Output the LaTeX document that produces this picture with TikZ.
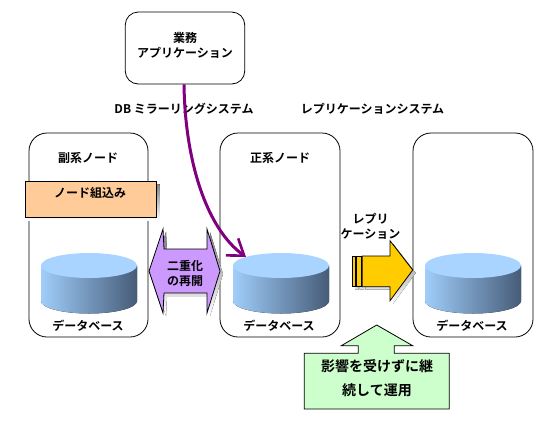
\documentclass[tikz,border=0pt]{standalone}
\usepackage{fontspec}
\setmainfont[BoldFont={Noto Sans CJK JP Bold}]{Noto Sans CJK JP}
\usetikzlibrary{arrows.meta}
\definecolor{cyltop}{HTML}{A9D4FF}
\definecolor{cylleft}{HTML}{A0CDFA}
\definecolor{cylright}{HTML}{465C78}
\definecolor{pinkbox}{HTML}{FFCC99}
\definecolor{lilac}{HTML}{CC99FF}
\definecolor{gold}{HTML}{FFCC00}
\definecolor{mint}{HTML}{CCFFCC}
\definecolor{plum}{HTML}{800080}
\definecolor{shade}{HTML}{777777}
\tikzset{
  x=1pt,y=-1pt,
  lbl/.style={font=\fontsize{12}{15}\selectfont\bfseries,inner sep=0pt,align=center,text=black},
  biglbl/.style={font=\fontsize{14}{24}\selectfont\bfseries,inner sep=0pt,align=center,text=black},
  panel/.style={draw=black,line width=0.8pt,rounded corners=18pt,fill=white},
  appbox/.style={draw=black,line width=0.8pt,rounded corners=13pt,fill=white,inner sep=0pt,
    minimum width=119.5pt,minimum height=72pt},
  plate/.style={draw=black,line width=0.8pt,fill=pinkbox,inner sep=0pt},
  outline/.style={draw=black,line width=0.8pt},
  pics/dbcyl/.style={code={
    \fill[left color=cylleft,middle color=cylleft!55!cylright,right color=cylright]
      (-48,-35.5) -- (-48,0) arc[start angle=180,end angle=360,x radius=48pt,y radius=12.5pt]
      -- (48,-35.5) -- cycle;
    \fill[cyltop] (0,-35.5) ellipse[x radius=48pt,y radius=12.5pt];
  }}
}
\begin{document}
\begin{tikzpicture}
\useasboundingbox (0,0) rectangle (537,421);
\fill[white] (0,0) rectangle (537,421);

% node panels
\draw[panel] (29,133) rectangle (148,337);
\draw[panel] (220,133) rectangle (340,337);
\draw[panel] (413,133) rectangle (533,337);
\node[lbl] (subtitle) at (88,158) {副系ノード};
\node[lbl] (maintitle) at (280,158) {正系ノード};

% application
\node[appbox] (app) at (185,48) {};
\node[lbl] (applabel) at (185,45) {業務\\アプリケーション};
\node[lbl] (dbsys) at (184,109) {DB ミラーリングシステム};
\node[lbl] (repsys) at (372.5,109) {レプリケーションシステム};

% plate
\fill[shade] (28,184) rectangle (159.5,220);
\draw[plate] (25,181) rectangle (156.5,217);
\node[lbl] (plate) at (90,193) {ノード組込み};

% databases
\pic at (89,301) {dbcyl};
\pic at (281,301) {dbcyl};
\pic at (473,301) {dbcyl};
\coordinate (dbtarget) at (246,257);
\node[lbl] (db1) at (88,326) {データベース};
\node[lbl] (db2) at (279,326) {データベース};
\node[lbl] (db3) at (472,326) {データベース};

% double arrow
\fill[shade,shift={(3,3)}] (149,271) -- (163,229) -- (164,249) -- (207,249) -- (207,229) -- (220,271) -- (207,313) -- (207,293) -- (164,293) -- (163,313) -- cycle;
\draw[outline,fill=lilac] (149,271) -- (163,229) -- (164,249) -- (207,249) -- (207,229) -- (220,271) -- (207,313) -- (207,293) -- (164,293) -- (163,313) -- cycle;
\node[lbl] (resume) at (185,273.5) {二重化\\の再開};

% replication arrow
\fill[shade,shift={(3,3)}] (352.3,256) rectangle (355.7,286.7) (356.7,256) rectangle (361,286.7)
  (362.3,256) -- (390,256) -- (390,240.7) -- (412.7,270) -- (390,300.7) -- (390,286.7) -- (362.3,286.7) -- cycle;
\draw[outline,fill=gold] (352.3,256) rectangle (355.7,286.7);
\draw[outline,fill=gold] (356.7,256) rectangle (361,286.7);
\draw[outline,fill=gold] (362.3,256) -- (390,256) -- (390,240.7) -- (412.7,270) -- (390,300.7) -- (390,286.7) -- (362.3,286.7) -- cycle;
\node[lbl] (replabel) at (370.5,226) {レプリ\\ケーション};

% callout
\draw[outline,fill=mint] (376.7,325) -- (412.7,345.7) -- (394.3,345.7) -- (394.3,353.3) -- (449.3,353.3) -- (449.3,409) -- (304.3,409) -- (304.3,353.3) -- (358.3,353.3) -- (358.3,345.7) -- (341.3,345.7) -- cycle;
\node[biglbl] (callout) at (377,378) {影響を受けずに継\\続して運用};

% application link
\draw[plum,line width=3pt,-{Straight Barb[length=15pt,width=21pt,line width=2.6pt]}]
  (app.south -| 184,84) .. controls (185,160) and (206,228) .. (dbtarget);
\end{tikzpicture}
\end{document}
